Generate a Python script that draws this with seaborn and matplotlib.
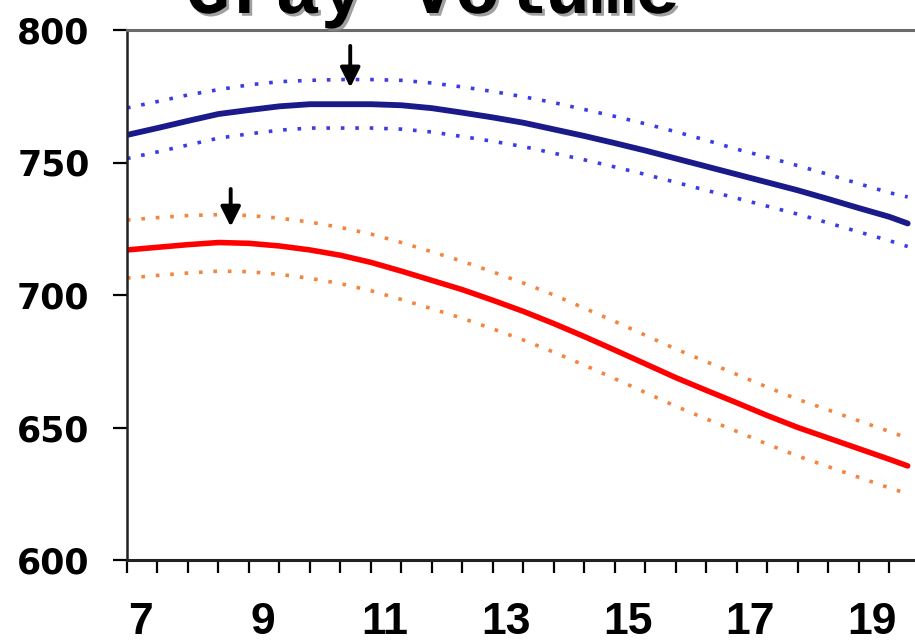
import numpy as np
import pandas as pd
import seaborn as sns
import matplotlib.pyplot as plt
import matplotlib.patheffects as pe
from matplotlib.transforms import ScaledTranslation

# age grid (years)
ages = [7, 7.5, 8, 8.5, 9, 9.5, 10, 10.5, 11, 11.5, 12, 12.5, 13, 13.5,
        14, 14.5, 15, 15.5, 16, 16.5, 17, 17.5, 18, 18.5, 19, 19.5, 19.8]

# blue curve + confidence band
blue_mean = [760.4, 763, 765.7, 768.3, 769.8, 771.2, 772, 772, 772, 771.6, 770.5, 768.8, 767, 765,
             762.5, 760, 757.3, 754.5, 751.5, 748.5, 745.5, 742.5, 739.5, 736.2, 732.8, 729.5, 727]
blue_upper = [770.6, 773, 775.5, 777.5, 779.3, 780.5, 781, 781.3, 781.3, 781, 780, 778.5, 776.8, 774.8,
              772.6, 770, 767.4, 764.6, 761.6, 758.4, 755, 752, 748.8, 745.5, 742, 738.6, 737]
blue_lower = [751.5, 754, 756.6, 759.2, 760.8, 762.2, 763, 763, 763, 762.6, 761.5, 759.8, 758, 756,
              753.5, 751, 748.3, 745.5, 742.5, 739.5, 736.5, 733.5, 730.5, 727.2, 723.8, 720.5, 718.3]

# red curve + confidence band
red_mean = [717, 718, 719, 719.8, 719.5, 718.5, 717, 715, 712.3, 709, 705.5, 702, 698, 693.8,
            689.2, 684.3, 679.2, 674, 668.8, 664, 659.3, 654.5, 650, 646, 642, 638, 635.5]
red_upper = [728.3, 729.2, 730, 730.3, 730, 729, 727.5, 725.5, 723, 719.8, 716.3, 712.7, 708.7, 704.5,
             700, 695, 690, 684.8, 679.6, 674.8, 670, 665.2, 660.6, 656.6, 652.5, 648.5, 646]
red_lower = [706.4, 707.4, 708.3, 709, 708.8, 707.8, 706.3, 704.3, 701.6, 698.3, 694.8, 691.2, 687.2, 683,
             678.4, 673.5, 668.4, 663.2, 658, 653.2, 648.5, 643.7, 639.2, 635.2, 631.2, 627.2, 625]

# peak arrows: (age, tail value, tip value)
blue_peak = (10.66, 794, 778.3)
red_peak = (8.70, 740, 725.8)

x_labels = [7, 9, 11, 13, 15, 17, 19]
y_ticks = [600, 650, 700, 750, 800]

sns.set_style('white')

fig = plt.figure(figsize=(9.15, 6.43), dpi=100)
ax = fig.add_axes([127 / 915, 83 / 643, 788 / 915, 530 / 643])

dots = (0, (1, 3))
sns.lineplot(x=ages, y=blue_upper, ax=ax, color='#3c3ce6', lw=2.6, linestyle=dots)
sns.lineplot(x=ages, y=blue_lower, ax=ax, color='#3c3ce6', lw=2.6, linestyle=dots)
sns.lineplot(x=ages, y=blue_mean, ax=ax, color='#1a1a8a', lw=4.2)
sns.lineplot(x=ages, y=red_upper, ax=ax, color='#f5843c', lw=2.6, linestyle=dots)
sns.lineplot(x=ages, y=red_lower, ax=ax, color='#f5843c', lw=2.6, linestyle=dots)
sns.lineplot(x=ages, y=red_mean, ax=ax, color='#ff0000', lw=4)

# arrows at the peaks
for age, tail, tip in [blue_peak, red_peak]:
    ax.annotate('', xy=(age, tip), xytext=(age, tail),
                arrowprops=dict(arrowstyle='-|>', color='black', lw=2.8,
                                mutation_scale=30, shrinkA=0, shrinkB=0))

ax.set_xlim(7, 19.92)
ax.set_ylim(600, 800)
ax.set_xticks(x_labels)
ax.set_xticks(np.arange(7, 20, 0.5), minor=True)
ax.set_yticks(y_ticks)
ax.set_xticklabels([str(v) for v in x_labels])
ax.set_yticklabels([str(v) for v in y_ticks])

ax.tick_params(axis='y', direction='out', length=10, width=1.6, pad=17, colors='black',
               labelsize=25, left=True)
ax.tick_params(axis='x', which='both', direction='out', length=9.5, width=1.6, pad=21,
               colors='black', bottom=True)
for lab in ax.get_yticklabels():
    lab.set_fontfamily('DejaVu Sans')
    lab.set_fontweight('bold')
shift = ScaledTranslation(13.5 / 100, 0, fig.dpi_scale_trans)
for lab in ax.get_xticklabels():
    lab.set_fontfamily('Liberation Sans')
    lab.set_fontweight('bold')
    lab.set_fontsize(32)
    lab.set_transform(lab.get_transform() + shift)

ax.spines['right'].set_visible(False)
ax.spines['left'].set_color('#222222')
ax.spines['left'].set_linewidth(1.8)
ax.spines['bottom'].set_color('#222222')
ax.spines['bottom'].set_linewidth(2.2)
ax.spines['top'].set_color('#6a6a6a')
ax.spines['top'].set_linewidth(2.2)

# title, cut off at the top edge as in the source image
fig.text(185 / 915, 1 - 13 / 643, 'Gray Volume', ha='left', va='baseline',
         fontsize=54, fontweight='bold', family='Liberation Mono', color='black',
         path_effects=[pe.SimplePatchShadow(offset=(2, -2), shadow_rgbFace='#888888', alpha=0.8),
                       pe.Normal()])

fig.savefig('out.png', dpi=100)
